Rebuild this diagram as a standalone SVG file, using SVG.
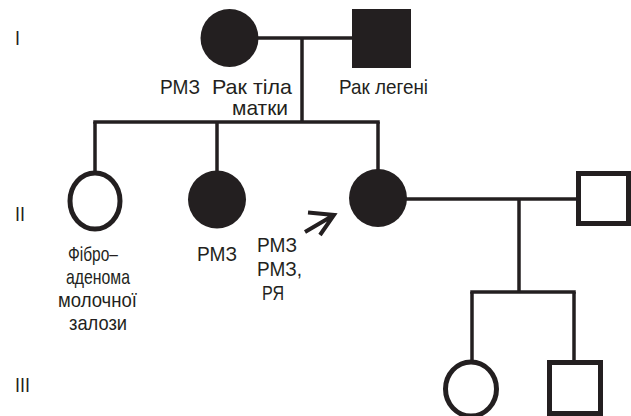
<svg xmlns="http://www.w3.org/2000/svg" width="631" height="416" viewBox="0 0 631 416">
  <style>
    .line { fill: none; stroke: #231f20; stroke-width: 3.5; stroke-linecap: butt; }
    .filled { fill: #231f20; }
    .open { fill: #ffffff; stroke: #231f20; stroke-width: 5; }
    .lbl { font-family: "Liberation Sans", Arial, sans-serif; font-size: 21px; fill: #231f20; }
    .arrow { fill: none; stroke: #231f20; stroke-width: 4; stroke-linecap: butt; stroke-linejoin: miter; }
  </style>

  <!-- generation numbers -->
  <g id="generations" class="lbl">
    <text x="15" y="45" textLength="5" lengthAdjust="spacingAndGlyphs">I</text>
    <text x="15" y="221" textLength="10" lengthAdjust="spacingAndGlyphs">II</text>
    <text x="15" y="392" textLength="15" lengthAdjust="spacingAndGlyphs">III</text>
  </g>

  <!-- connectors -->
  <g id="connectors" class="line">
    <!-- generation I couple and descent -->
    <line x1="257" y1="38" x2="353" y2="38"/>
    <line x1="302" y1="38" x2="302" y2="122"/>
    <!-- sibship line generation II -->
    <line x1="93.25" y1="122" x2="379.75" y2="122"/>
    <line x1="95" y1="122" x2="95" y2="171"/>
    <line x1="217" y1="122" x2="217" y2="171"/>
    <line x1="378" y1="122" x2="378" y2="170"/>
    <!-- generation II couple and descent -->
    <line x1="406" y1="199" x2="577" y2="199"/>
    <line x1="519" y1="199" x2="519" y2="292"/>
    <!-- sibship line generation III -->
    <line x1="470.25" y1="292" x2="575.75" y2="292"/>
    <line x1="472" y1="292" x2="472" y2="361"/>
    <line x1="574" y1="292" x2="574" y2="360"/>
  </g>

  <!-- generation I -->
  <g id="I-1">
    <circle class="filled" cx="229.5" cy="38" r="29"/>
    <text class="lbl" x="160" y="94" textLength="40" lengthAdjust="spacingAndGlyphs">РМЗ</text>
    <text class="lbl" x="212" y="94" textLength="80" lengthAdjust="spacingAndGlyphs">Рак тіла</text>
    <text class="lbl" x="232" y="115" textLength="56" lengthAdjust="spacingAndGlyphs">матки</text>
  </g>
  <g id="I-2">
    <rect class="filled" x="352" y="9" width="59" height="59"/>
    <text class="lbl" x="339" y="94" textLength="89" lengthAdjust="spacingAndGlyphs">Рак легені</text>
  </g>

  <!-- generation II -->
  <g id="II-1">
    <ellipse class="open" cx="95" cy="201" rx="25" ry="28"/>
    <text class="lbl" x="68" y="261" textLength="50" lengthAdjust="spacingAndGlyphs">Фібро–</text>
    <text class="lbl" x="66" y="284" textLength="64" lengthAdjust="spacingAndGlyphs">аденома</text>
    <text class="lbl" x="58" y="307" textLength="79" lengthAdjust="spacingAndGlyphs">молочної</text>
    <text class="lbl" x="69" y="330" textLength="58" lengthAdjust="spacingAndGlyphs">залози</text>
  </g>
  <g id="II-2">
    <circle class="filled" cx="217" cy="199.5" r="29"/>
    <text class="lbl" x="197" y="261" textLength="40" lengthAdjust="spacingAndGlyphs">РМЗ</text>
  </g>
  <g id="II-3">
    <circle class="filled" cx="378" cy="198" r="29"/>
    <text class="lbl" x="257" y="252" textLength="40" lengthAdjust="spacingAndGlyphs">РМЗ</text>
    <text class="lbl" x="257" y="276" textLength="45" lengthAdjust="spacingAndGlyphs">РМЗ,</text>
    <text class="lbl" x="262" y="300" textLength="22" lengthAdjust="spacingAndGlyphs">РЯ</text>
    <!-- proband arrow -->
    <path class="arrow" d="M305 232 L334 215 M308 212.5 L334 215 L320 235"/>
  </g>
  <g id="II-4">
    <rect class="open" x="578.5" y="173.5" width="50" height="50"/>
  </g>

  <!-- generation III -->
  <g id="III-1">
    <ellipse class="open" cx="471" cy="389" rx="25.5" ry="27"/>
  </g>
  <g id="III-2">
    <rect class="open" x="549.5" y="362.5" width="51" height="51"/>
  </g>
</svg>
